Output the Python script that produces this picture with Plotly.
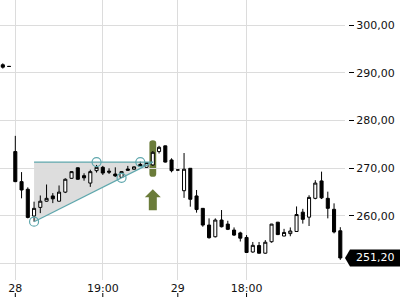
import plotly.graph_objects as go

# ---------------- data ----------------
slots = list(range(-2, 53))  # candle slot index (one slot per bar)
opens = [291.7, 291.35,
         273.5, 267.2, 265.6, 260.0, 261.8, 263.1, 264.2, 263.1, 265.0, 267.9,
         270.1, 268.45, 266.9, 269.5, 270.2, 269.4, 268.8, 268.1, 269.85, 269.8,
         270.8, 270.2, 270.7, 273.5, 274.7, 271.75, 269.65, 265.3, 270.0, 264.2,
         261.6, 258.1, 255.65, 259.15, 258.3, 257.05, 256.45, 255.5, 252.45, 253.8,
         252.2, 254.6, 258.7, 255.8, 256.3, 256.75, 260.8, 259.75, 263.7, 267.35,
         263.7, 261.4, 256.9]
highs = [292.0, 291.45,
         276.8, 269.2, 266.0, 263.0, 264.3, 266.6, 264.8, 266.4, 267.9, 269.4,
         270.2, 268.95, 269.7, 270.7, 270.5, 270.0, 270.2, 269.4, 270.5, 270.4,
         271.4, 271.3, 273.6, 274.7, 274.75, 272.1, 269.7, 273.2, 270.05, 265.45,
         261.65, 259.5, 259.5, 261.25, 259.0, 257.6, 256.7, 256.0, 254.55, 254.55,
         254.95, 258.35, 258.75, 257.3, 257.6, 262.0, 261.5, 264.35, 267.5, 269.3,
         265.1, 262.65, 257.65]
lows = [290.9, 291.3,
        267.1, 263.7, 259.5, 258.8, 260.6, 263.0, 262.7, 263.0, 264.8, 267.8,
        267.6, 267.4, 266.1, 269.1, 268.6, 268.8, 268.2, 268.0, 269.5, 269.7,
        270.3, 270.1, 270.5, 273.1, 271.2, 269.15, 269.6, 263.8, 261.95, 260.7,
        257.75, 255.25, 255.5, 257.6, 257.05, 255.8, 254.65, 252.25, 252.3, 252.1,
        252.1, 254.4, 256.0, 255.75, 255.75, 256.7, 258.4, 257.9, 263.5, 263.55,
        259.5, 256.35, 250.8]
closes = [291.2, 291.35,
          267.2, 265.45, 259.7, 261.6, 263.1, 263.7, 263.6, 265.0, 267.7, 269.3,
          267.7, 268.0, 269.3, 270.2, 269.0, 269.2, 268.4, 269.3, 269.6, 270.3,
          270.4, 271.2, 273.35, 274.4, 271.3, 269.5, 269.65, 269.8, 263.5, 261.35,
          258.1, 255.45, 259.15, 257.75, 257.2, 256.0, 255.35, 252.35, 253.85, 252.2,
          254.5, 258.3, 256.1, 256.55, 256.85, 260.3, 259.3, 263.9, 266.9, 263.8,
          261.6, 256.65, 251.2]

tick_pos = [0, 14, 26, 37]
tick_text = ["28", "19:00", "29", "18:00"]
y_ticks = [250, 260, 270, 280, 290, 300]
y_ticktext = ["", "260,00", "270,00", "280,00", "290,00", "300,00"]  # 250 hidden under price tag

# ascending-triangle pattern
tri_start, tri_apex = 3, 22
resistance = 271.3
support_start = 258.8
touch_x = [3, 13, 17, 20]
touch_y = [258.8, 271.3, 268.0, 271.3]
breakout_slot = 22

TEAL = "#5fa7ad"
OLIVE = "#6b7c3a"
GRID = "#dcdcdc"

fig = go.Figure()

fig.add_trace(go.Candlestick(
    x=slots, open=opens, high=highs, low=lows, close=closes,
    increasing=dict(line=dict(color="black", width=1), fillcolor="white"),
    decreasing=dict(line=dict(color="black", width=1), fillcolor="black"),
    whiskerwidth=0, hoverinfo="skip", showlegend=False,
))

fig.add_trace(go.Scatter(
    x=touch_x, y=touch_y, mode="markers",
    marker=dict(symbol="circle-open", size=9, color=TEAL, line=dict(width=1.2, color=TEAL)),
    hoverinfo="skip", showlegend=False,
))

shapes = []
# pattern fill
shapes.append(dict(type="path", xref="x", yref="y", layer="below",
                   path=f"M {tri_start},{resistance} L {tri_apex},{resistance} L {tri_start},{support_start} Z",
                   fillcolor="rgba(128,128,128,0.27)", line=dict(width=0)))
shapes.append(dict(type="line", xref="x", yref="y", x0=tri_start, x1=tri_apex,
                   y0=resistance, y1=resistance, line=dict(color=TEAL, width=1.2)))
shapes.append(dict(type="line", xref="x", yref="y", x0=tri_start, x1=tri_apex,
                   y0=support_start, y1=resistance, line=dict(color=TEAL, width=1.2)))

# breakout pill
b = slots.index(breakout_slot)
pad = 2.3
ptop = highs[b] + pad
pbot = lows[b] - pad
r = 0.6
w = 3.4
pill = (f"M {-w},{pbot + r} L {-w},{ptop - r} Q {-w},{ptop} 0,{ptop} Q {w},{ptop} {w},{ptop - r} "
        f"L {w},{pbot + r} Q {w},{pbot} 0,{pbot} Q {-w},{pbot} {-w},{pbot + r} Z")
shapes.append(dict(type="path", xref="x", yref="y", xsizemode="pixel", xanchor=breakout_slot,
                   layer="below", path=pill, fillcolor=OLIVE, line=dict(width=0)))
# up arrow
arrow = "M 0,-12.5 L 8,-20.5 L 4,-20.5 L 4,-33.5 L -4,-33.5 L -4,-20.5 L -8,-20.5 Z"
shapes.append(dict(type="path", xref="x", yref="y", xsizemode="pixel", xanchor=breakout_slot,
                   ysizemode="pixel", yanchor=pbot, path=arrow, fillcolor=OLIVE, line=dict(width=0)))

# x tick marks under the labels
for tp in tick_pos:
    shapes.append(dict(type="line", xref="x", yref="paper", x0=tp, x1=tp, y0=0.01, y1=0.0233,
                       line=dict(color="black", width=1)))

# last price tag
last = closes[-1]
shapes.append(dict(type="path", xref="paper", yref="y", ysizemode="pixel", yanchor=last,
                   path="M 0.8625,0 L 0.875,8.5 L 1.0,8.5 L 1.0,-8.5 L 0.875,-8.5 Z",
                   fillcolor="black", line=dict(width=0)))

fig.update_layout(
    width=400, height=300,
    margin=dict(l=0, r=0, t=0, b=0),
    paper_bgcolor="white", plot_bgcolor="white",
    separators=",.",
    font=dict(family="DejaVu Sans", size=11, color="#111"),
    showlegend=False,
    shapes=shapes,
    xaxis=dict(domain=[0, 345 / 400], range=[-2.45, 52.75], tickmode="array",
               tickvals=tick_pos, ticktext=tick_text, showgrid=True, gridcolor=GRID,
               gridwidth=1, zeroline=False, ticks="", showline=False,
               rangeslider=dict(visible=False), fixedrange=True),
    yaxis=dict(domain=[20 / 300, 1], range=[246.58, 305.28], side="right",
               anchor="free", position=348 / 400, tickmode="array",
               tickvals=y_ticks, ticktext=y_ticktext,
               ticks="outside", ticklen=5, tickcolor="black", showgrid=True,
               gridcolor=GRID, gridwidth=1, zeroline=False, showline=False, fixedrange=True),
    annotations=[dict(xref="paper", yref="y", x=354 / 400, y=last, xanchor="left",
                      yanchor="middle", text=f"{last:.2f}".replace(".", ","),
                      showarrow=False, font=dict(color="white", size=11, family="DejaVu Sans"))],
)

fig.write_html("out.html")
